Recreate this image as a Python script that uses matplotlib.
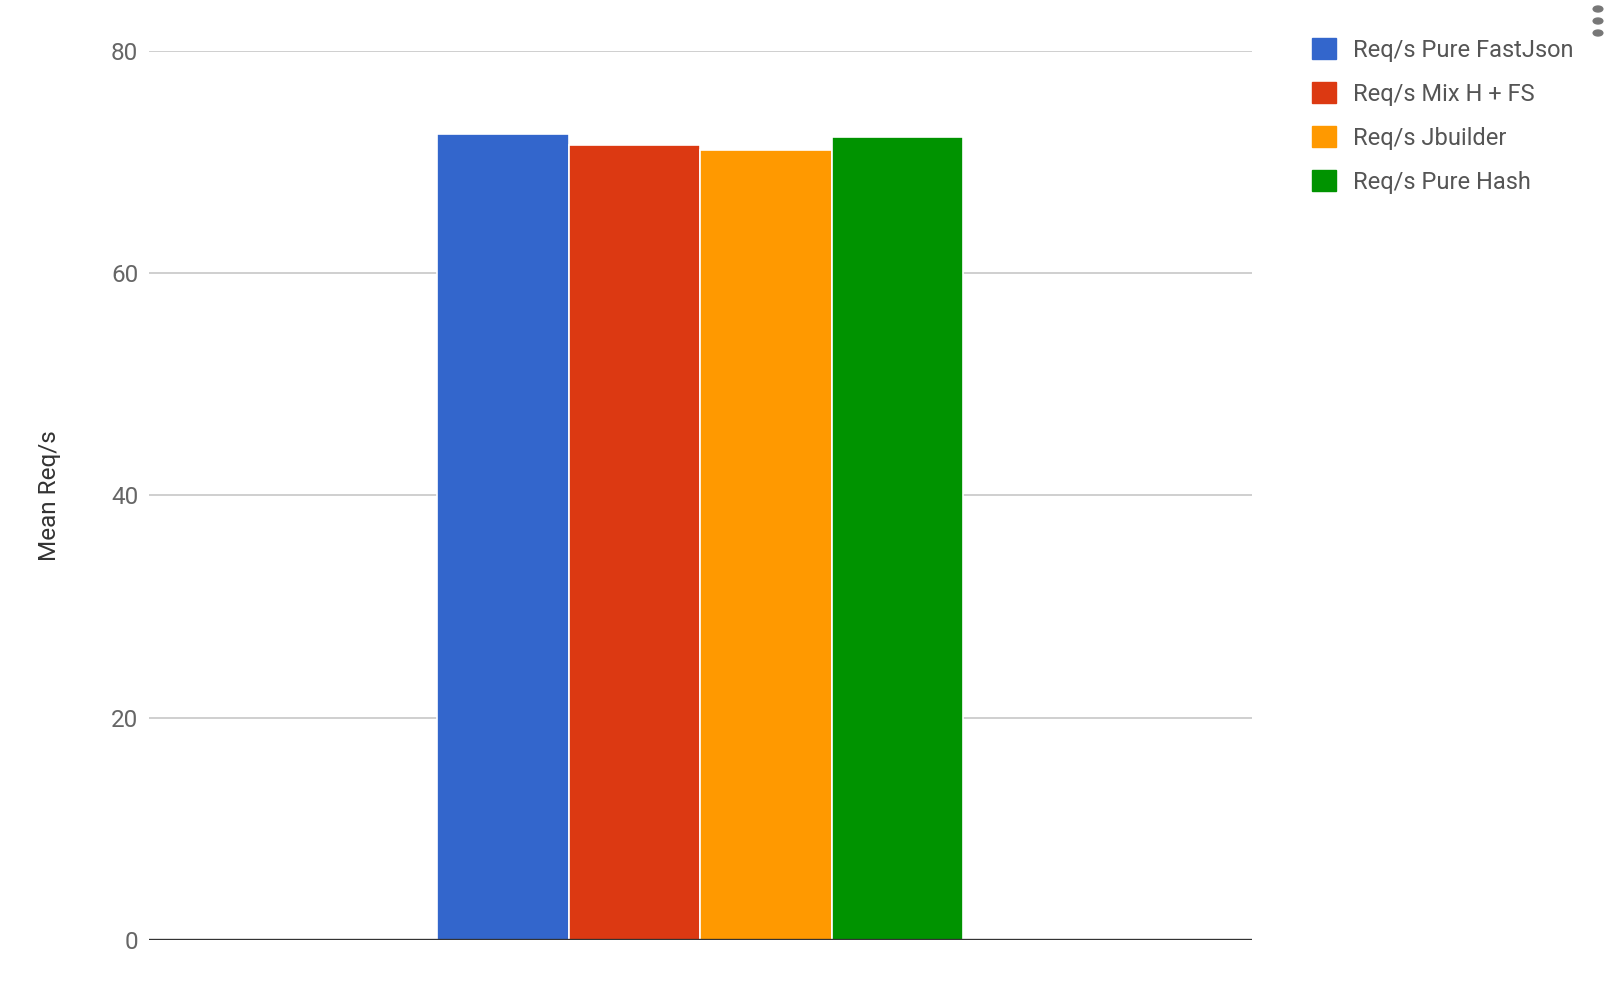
import matplotlib
matplotlib.use("Agg")
import matplotlib.pyplot as plt
from matplotlib.patches import Patch
import numpy as np

plt.rcParams['font.family'] = ['Roboto', 'DejaVu Sans']

series = ["Req/s Pure FastJson", "Req/s Mix H + FS", "Req/s Jbuilder", "Req/s Pure Hash"]
values = [72.5, 71.5, 71.1, 72.2]
colors = ["#3366cc", "#dc3912", "#ff9900", "#009300"]

fig = plt.figure(figsize=(16.14, 9.9), dpi=100)
ax = fig.add_axes([0.0925, 0.0505, 0.683, 0.8983])

bar_w = 0.1193
x = (np.arange(len(values)) - (len(values) - 1) / 2) * bar_w
ax.bar(x, values, width=bar_w, color=colors, edgecolor="white", linewidth=1.2, zorder=3)

ax.set_xlim(-0.5, 0.5)
ax.set_ylim(0, 80)
ax.set_yticks([0, 20, 40, 60, 80])
ax.set_xticks([])
ax.yaxis.grid(True, color="#cccccc", linewidth=1.3, zorder=0)
ax.axhline(0, color="#333333", linewidth=2.4, zorder=4)
for s in ax.spines.values():
    s.set_visible(False)
ax.tick_params(axis="y", length=0, pad=8, labelsize=17.5, labelcolor="#666666")
ax.set_ylabel("Mean Req/s", fontsize=17.5, color="#333333", labelpad=36)

handles = [Patch(facecolor=c, edgecolor=c) for c in colors]
fig.legend(handles, series, loc="upper left", bbox_to_anchor=(0.813, 0.9616),
           frameon=False, fontsize=17, labelcolor="#555555", borderpad=0,
           borderaxespad=0, handlelength=1.0, handleheight=1.0,
           handletextpad=0.72, labelspacing=0.86)

# menu dots
for yy in [9, 21, 33]:
    fig.patches.append(plt.Circle((1598 / 1614, 1 - yy / 990), 0.003,
                                  transform=fig.transFigure, color="#777777"))

fig.savefig("out.png", dpi=100)
